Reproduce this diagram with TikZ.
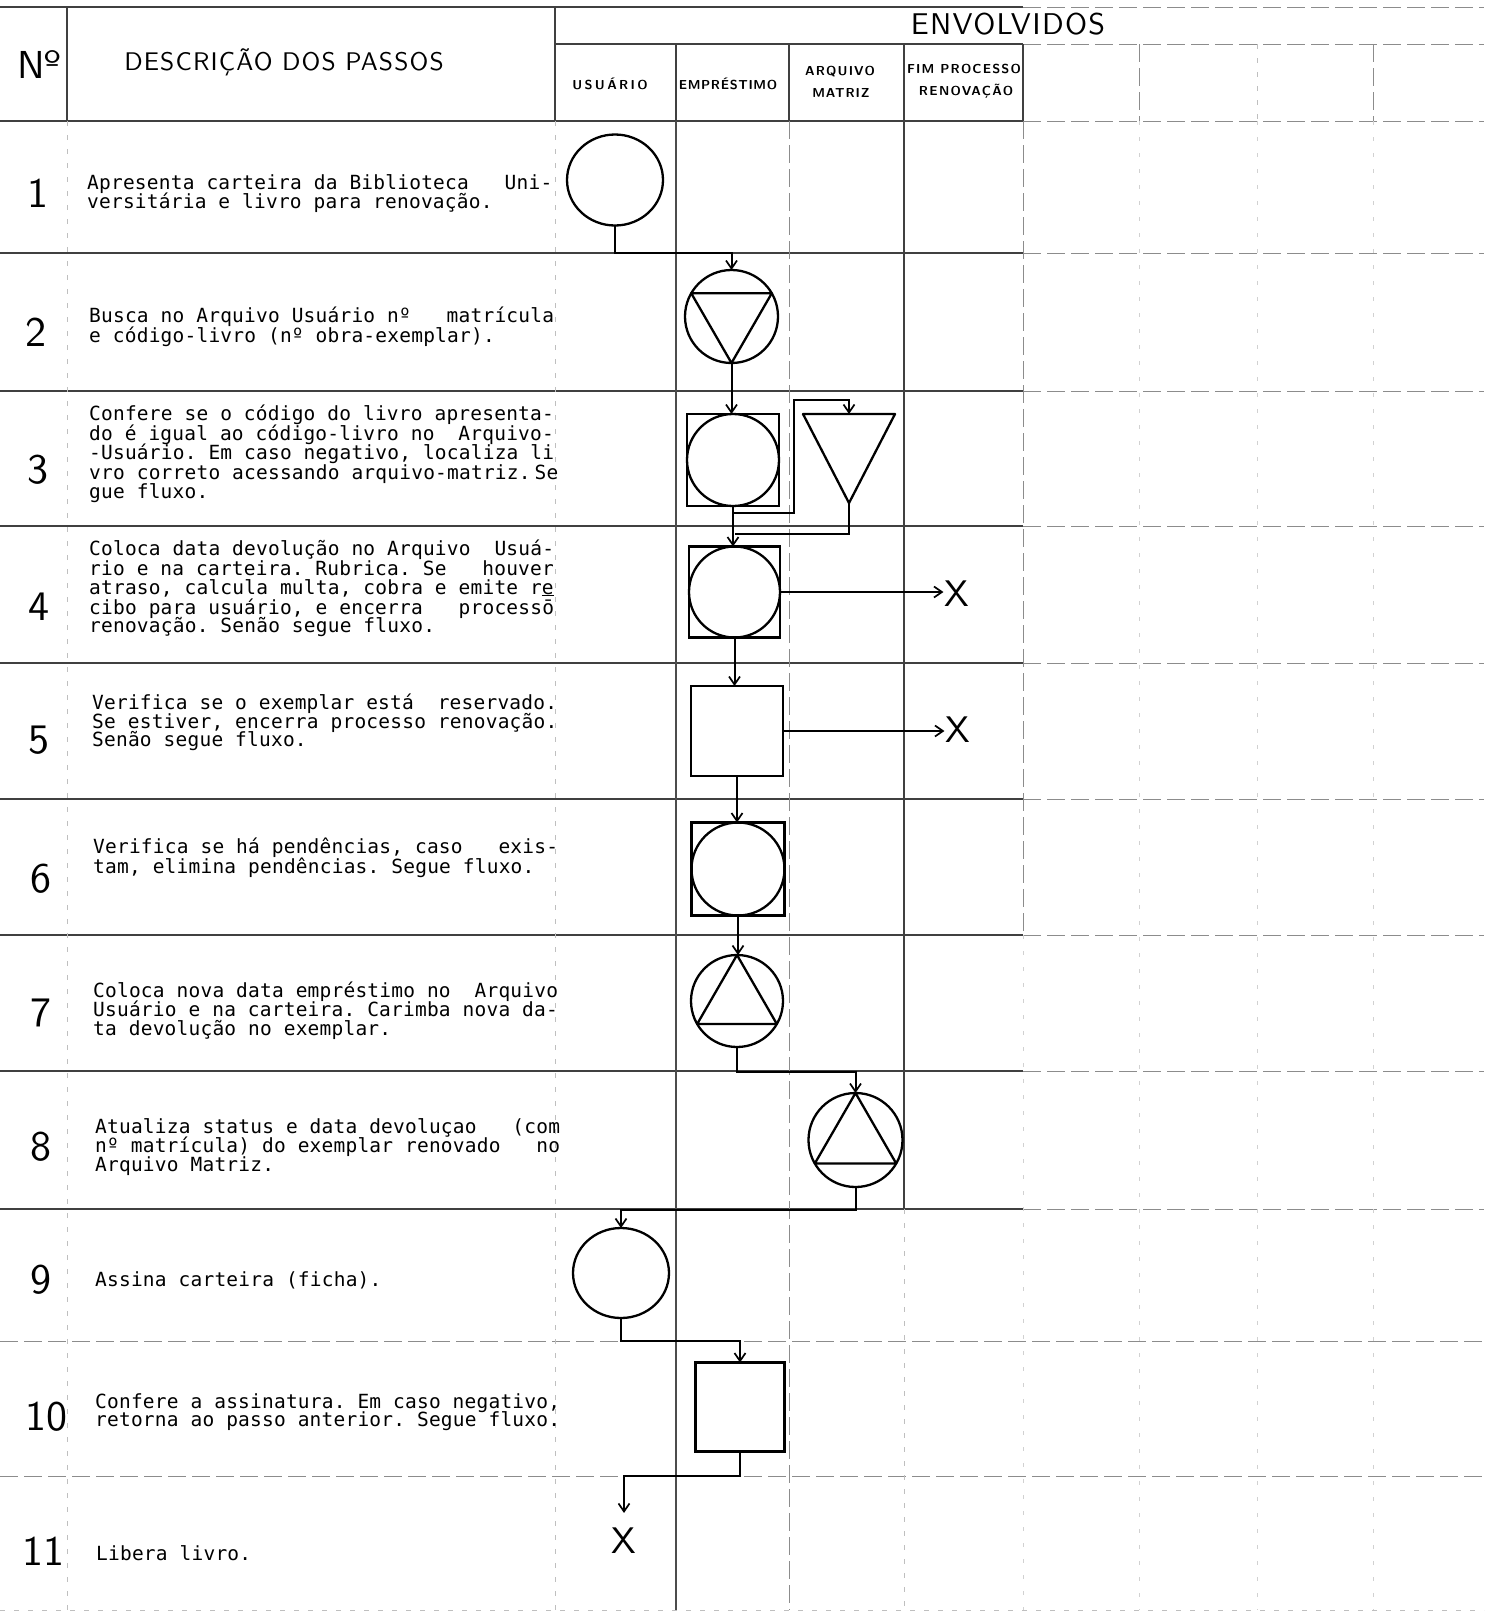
\documentclass[tikz,border=0pt]{standalone}
\usepackage{fontspec}
\usetikzlibrary{shapes.geometric,arrows.meta,calc}
\newfontfamily\monof[LetterSpace=1.1]{DejaVu Sans Mono}
\newfontfamily\lmsf[Extension=.otf,UprightFont=*-regular,BoldFont=*-bold]{lmsans10}
\frenchspacing
\begin{document}
\begin{tikzpicture}[x=1pt,y=-1pt,
  gridS/.style={draw=black!75,line width=1.5pt},
  gridD/.style={draw=black!45,line width=1pt,dash pattern=on 18pt off 6pt},
  gridF/.style={draw=black!25,line width=0.8pt,dash pattern=on 5pt off 9pt},
  gridL/.style={draw=black!18,line width=0.8pt,dash pattern=on 4pt off 12pt},
  shp/.style={draw=black,line width=2.3pt,inner sep=0pt,outer sep=0pt},
  oval/.style={shp,ellipse,minimum width=96pt,minimum height=91pt},
  disc/.style={shp,circle,minimum size=#1},
  boxsq/.style={shp,rectangle,minimum width=#1,minimum height=#1},
  tribox/.style={inner sep=0pt,outer sep=0pt,minimum width=92pt,minimum height=89pt},
  deco/.style={line width=2.3pt,line join=round},
  link/.style={draw=black,line width=2pt},
  arr/.style={link,-{Straight Barb[length=8pt,width=11pt,line width=1.7pt]}},
  desc/.style={anchor=base west,inner sep=0pt,font=\monof\fontsize{19.5}{19.5}\selectfont\frenchspacing},
  num/.style={inner sep=0pt,font=\lmsf\fontsize{42}{42}\selectfont},
  lane/.style={anchor=base,inner sep=0pt,font=\lmsf\bfseries\fontsize{13}{13}\selectfont},
  xmark/.style={inner sep=1pt,font=\lmsf\fontsize{37}{37}\selectfont}]

% page
\fill[white] (0,0) rectangle (1484,1612);
\useasboundingbox (0,0) rectangle (1484,1612);

% ---------- grid ----------
\draw[gridS] (0,7) -- (1023,7);
\draw[gridD] (1023,7) -- (1484,7);
\draw[gridS] (555,44) -- (1023,44);
\draw[gridD] (1023,44) -- (1484,44);
\foreach \y in {121,253,391,526,663,799,935,1071,1209}{
  \draw[gridS] (0,\y) -- (1023,\y);
  \draw[gridD] (1023,\y) -- (1484,\y);
}
\draw[gridD] (0,1341) -- (1484,1341);
\draw[gridD] (0,1476) -- (1484,1476);
\draw[gridF] (0,1610) -- (1484,1610);

\draw[gridS] (67,7) -- (67,121);
\draw[gridS] (555,7) -- (555,121);
\foreach \x in {676,789,904,1023} \draw[gridS] (\x,44) -- (\x,121);
\foreach \x in {1139,1373} \draw[gridD] (\x,44) -- (\x,121);
\draw[gridF] (1257,44) -- (1257,121);

\foreach \x in {67,555} \draw[gridF] (\x,121) -- (\x,1610);
\foreach \x in {1139,1257,1373} \draw[gridL] (\x,121) -- (\x,1610);
\draw[draw=black!70,line width=1.1pt] (676,121) -- (676,1610);
\draw[gridD] (789,121) -- (789,1610);
\draw[gridS] (904,121) -- (904,1209);
\draw[gridF] (904,1209) -- (904,1610);
\draw[gridD] (1023,121) -- (1023,935);
\draw[gridL] (1023,935) -- (1023,1610);

% ---------- header ----------
\node[inner sep=0pt,anchor=base,font=\lmsf\fontsize{39}{39}\selectfont] (hno) at (39,78) {Nº};
\node[inner sep=0pt,anchor=base,font=\lmsf\fontsize{25.5}{25.5}\selectfont] (hdesc) at (284,70)
  {\addfontfeatures{LetterSpace=4.5}DESCRIÇÃO DOS PASSOS};
\node[inner sep=0pt,anchor=base,font=\lmsf\fontsize{30}{30}\selectfont] (henv) at (1008,34)
  {\addfontfeatures{LetterSpace=4.5}ENVOLVIDOS};
\node[lane] (lusu) at (610,89) {\addfontfeatures{LetterSpace=18}USUÁRIO};
\node[lane] (lemp) at (728,89) {\addfontfeatures{LetterSpace=5}EMPRÉSTIMO};
\node[lane] (larq) at (840,75) {\addfontfeatures{LetterSpace=9}ARQUIVO};
\node[lane] (lmat) at (841,97) {\addfontfeatures{LetterSpace=7}MATRIZ};
\node[lane] (lfim) at (964,73) {\addfontfeatures{LetterSpace=9}FIM PROCESSO};
\node[lane] (lren) at (966,95) {\addfontfeatures{LetterSpace=10}RENOVAÇÃO};

% ---------- step numbers ----------
\node[num] (n1) at (38,193) {1};
\node[num] (n2) at (36,332) {2};
\node[num] (n3) at (38,470) {3};
\node[num] (n4) at (39,607) {4};
\node[num] (n5) at (39,740) {5};
\node[num] (n6) at (41,879) {6};
\node[num] (n7) at (41,1013) {7};
\node[num] (n8) at (41,1147) {8};
\node[num] (n9) at (41,1280) {9};
\node[num] (n10) at (46,1417) {10};
\node[num] (n11) at (43,1551) {11};

% ---------- descriptions ----------
\node[desc] (d1a) at (87,189) {Apresenta carteira da Biblioteca~~~Uni-};
\node[desc] (d1b) at (87,208) {versitária e livro para renovação.};

\node[desc] (d2a) at (89,322) {Busca no Arquivo Usuário nº~~~matrícula};
\node[desc] (d2b) at (89,342) {e código-livro (nº obra-exemplar).};

\node[desc] (d3a) at (89,420) {Confere se o código do livro apresenta-};
\node[desc] (d3b) at (89,440) {do é igual ao código-livro no~~Arquivo-};
\node[desc] (d3c) at (89,459) {-Usuário. Em caso negativo, localiza li};
\node[desc] (d3d) at (89,479) {vro correto acessando arquivo-matriz.\hspace{4pt}Se};
\node[desc] (d3e) at (89,498) {gue fluxo.};

\node[desc] (d4a) at (89,555) {Coloca data devolução no Arquivo~~Usuá-};
\node[desc] (d4b) at (89,575) {rio e na carteira. Rubrica. Se~~~houver};
\node[desc] (d4c) at (89,594) {atraso, calcula multa, cobra e emite r\underline{e}};
\node[desc] (d4d) at (89,614) {cibo para usuário, e encerra~~~processō};
\node[desc] (d4e) at (89,632) {renovação. Senão segue fluxo.};

\node[desc] (d5a) at (92,709) {Verifica se o exemplar está~~reservado.};
\node[desc] (d5b) at (92,728) {Se estiver, encerra processo renovação.};
\node[desc] (d5c) at (92,746) {Senão segue fluxo.};

\node[desc] (d6a) at (93,853) {Verifica se há pendências, caso~~~exis-};
\node[desc] (d6b) at (93,873) {tam, elimina pendências. Segue fluxo.};

\node[desc] (d7a) at (93,997) {Coloca nova data empréstimo no~~Arquivo};
\node[desc] (d7b) at (93,1016) {Usuário e na carteira. Carimba nova da-};
\node[desc] (d7c) at (93,1035) {ta devolução no exemplar.};

\node[desc] (d8a) at (95,1133) {Atualiza status e data devoluçao~~~(com};
\node[desc] (d8b) at (95,1152) {nº matrícula) do exemplar renovado~~~no};
\node[desc] (d8c) at (95,1171) {Arquivo Matriz.};

\node[desc] (d9a) at (95,1286) {Assina carteira (ficha).};

\node[desc] (d10a) at (95,1408) {Confere a assinatura. Em caso negativo,};
\node[desc] (d10b) at (95,1426) {retorna ao passo anterior. Segue fluxo.};

\node[desc] (d11a) at (96,1560) {Libera livro.};

% ---------- symbols ----------
\node[oval] (c1) at (615,180) {};
\node[disc=93pt] (c2) at (731.5,316.5) {};
\node[boxsq=92pt] (s3) at (733,460) {};
\node[tribox] (t3) at (849,458.5) {};
\node[boxsq=91pt] (s4) at (734.5,592) {};
\node[xmark] (x4) at (957,594) {X};
\node[shp,rectangle,minimum width=92pt,minimum height=90pt] (s5) at (737,731) {};
\node[xmark] (x5) at (958,730) {X};
\node[boxsq=93pt] (s6) at (738,869) {};
\node[disc=92pt] (c7) at (737,1001) {};
\node[disc=94pt] (c8) at (855.5,1140) {};
\node[oval,minimum height=90pt] (c9) at (621,1273) {};
\node[boxsq=89pt] (s10) at (740,1407) {};
\node[xmark] (x11) at (624,1541) {X};

% inner marks
\draw[deco] (c2.-90) -- (c2.30) -- (c2.150) -- cycle;
\draw[deco] (s3.center) circle[radius=46pt];
\draw[deco] (t3.north west) -- (t3.north east) -- (t3.south) -- cycle;
\draw[deco] (s4.center) circle[radius=45.5pt];
\draw[deco] (s6.center) circle[radius=46.5pt];
\draw[deco] (c7.90) -- (c7.-30) -- (c7.210) -- cycle;
\draw[deco] (c8.90) -- (c8.-30) -- (c8.210) -- cycle;

% ---------- connectors ----------
\draw[arr] (c1.south) -- ++(0,27) -| (c2.north);
\draw[arr] (c2.south) -- (c2.south |- s3.north);
\draw[arr] (s3.south) -- ++(0,7) -- ++(61,0) -- ++(0,-113) -| (t3.north);
\draw[arr] (s3.south) -- (s3.south |- s4.north);
\draw[link] (t3.south) |- ([yshift=13pt]s4.north);
\draw[arr] (s4.east) -- (s4.east -| x4.west);
\draw[arr] (s4.south) -- (s4.south |- s5.north);
\draw[arr] (s5.east) -- (s5.east -| x5.west);
\draw[arr] (s5.south) -- (s5.south |- s6.north);
\draw[arr] (s6.south) -- (s6.south |- c7.north);
\draw[arr] (c7.south) -- ++(0,25) -| (c8.north);
\draw[arr] (c8.south) -- ++(0,23) -| (c9.north);
\draw[arr] (c9.south) -- ++(0,23) -| (s10.north);
\draw[arr] (s10.south) -- ++(0,24) -| ([yshift=14pt]x11.north);
\end{tikzpicture}
\end{document}
